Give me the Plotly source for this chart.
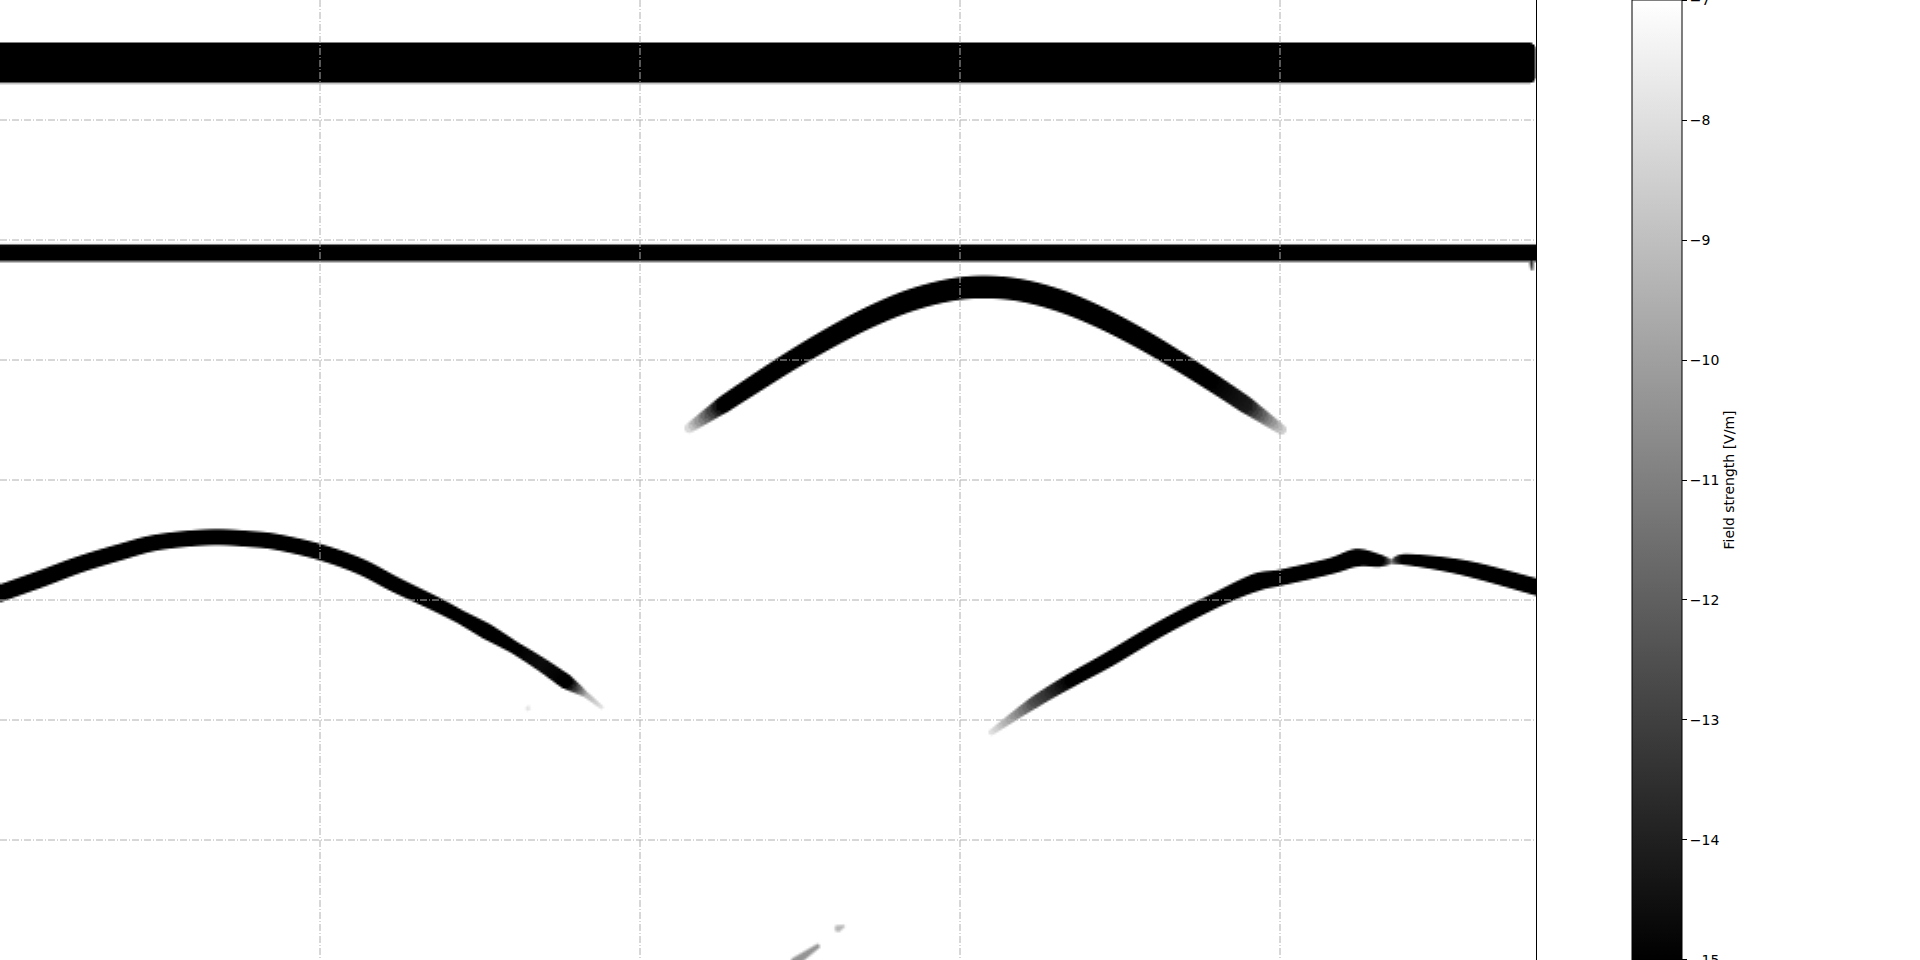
import numpy as np
import plotly.graph_objects as go

# ---------------- data ----------------
# axis units: x 0..4.8, y 0..8 (y grows downward)
colorbar_ticks = [-7, -8, -9, -10, -11, -12, -13, -14, -15]
colorbar_text = ["\u22127", "\u22128", "\u22129", "\u221210", "\u221211",
                 "\u221212", "\u221213", "\u221214", "\u221215"]
z_min, z_max = -15, -7

# direct-wave band (thick, top)
band1_x = [0.0, 4.797]
band1_y = [0.3525, 0.689]          # top / bottom edge

# surface reflection band
band2_x = [-0.05, 4.81]
band2_y = [2.104, 2.104]
band2_hw = [8.5, 8.5]
band2_int = [1.0, 1.0]

# upper hyperbola (middle)
arch1_x = [2.153, 2.259, 2.344, 2.469, 2.594, 2.719, 2.844, 2.969, 3.075,
           3.188, 3.313, 3.438, 3.563, 3.675, 3.781, 3.891, 4.003]
arch1_y = [3.563, 3.368, 3.218, 3.004, 2.808, 2.635, 2.498, 2.412, 2.388,
           2.415, 2.504, 2.643, 2.817, 2.994, 3.173, 3.368, 3.575]
arch1_hw = [5.0, 8.5, 9.0, 9.5, 10.0, 10.5, 11.0, 11.2, 11.4,
            11.2, 11.0, 10.5, 10.0, 9.5, 9.0, 8.5, 5.0]
arch1_int = [0.15, 1.0, 1.0, 1.0, 1.0, 1.0, 1.0, 1.0, 1.0,
             1.0, 1.0, 1.0, 1.0, 1.0, 1.0, 0.9, 0.2]

# left hyperbola
arch2_x = [-0.02, 0.125, 0.247, 0.375, 0.494, 0.656, 0.781, 0.866, 1.0, 1.125,
           1.234, 1.359, 1.438, 1.519, 1.606, 1.688, 1.766, 1.828, 1.878]
arch2_y = [4.958, 4.821, 4.700, 4.596, 4.514, 4.473, 4.488, 4.514, 4.598, 4.717,
           4.868, 5.028, 5.138, 5.257, 5.392, 5.529, 5.673, 5.783, 5.889]
arch2_hw = [8.5, 8.5, 8.3, 8.2, 8.0, 8.0, 8.0, 8.0, 8.0, 8.0,
            7.8, 7.3, 6.8, 8.0, 6.2, 6.8, 7.5, 3.0, 2.0]
arch2_int = [1.0, 1.0, 1.0, 1.0, 1.0, 1.0, 1.0, 1.0, 1.0, 1.0,
             1.0, 1.0, 1.0, 1.0, 1.0, 0.95, 1.0, 0.3, 0.12]

# right rising reflection
arch3_x = [3.097, 3.231, 3.344, 3.463, 3.634, 3.809, 3.925, 4.003, 4.156,
           4.238, 4.306, 4.347, 4.388, 4.503, 4.619, 4.81]
arch3_y = [6.098, 5.848, 5.667, 5.492, 5.223, 4.983, 4.848, 4.808, 4.714,
           4.644, 4.667, 4.675, 4.658, 4.694, 4.756, 4.895]
arch3_hw = [3.0, 6.0, 7.0, 7.5, 7.5, 7.5, 9.0, 8.0, 8.0,
            9.0, 6.5, 2.5, 5.5, 7.0, 8.0, 8.5]
arch3_int = [0.12, 0.7, 1.0, 1.0, 1.0, 1.0, 1.0, 1.0, 1.0,
             1.0, 1.0, 0.45, 1.0, 1.0, 1.0, 1.0]

# small faint spots: (x0, y0, x1, y1, half width px, intensity)
spots_x0 = [1.650, 2.618, 2.484, 4.784]
spots_y0 = [5.900, 7.733, 8.010, 2.150]
spots_x1 = [1.652, 2.632, 2.553, 4.786]
spots_y1 = [5.902, 7.717, 7.883, 2.235]
spots_hw = [2.5, 3.5, 4.5, 2.5]
spots_int = [0.12, 0.28, 0.42, 0.8]

x_range = [0, 4.8]
y_range = [0, 8]
grid_x = [1, 2, 3, 4]
grid_y = [1, 2, 3, 4, 5, 6, 7]

# ---------------- raster field built from the curves ----------------
NX, NY = 768, 480
SX, SY = 1536 / 4.8, 960 / 8.0          # px per axis unit (isotropic widths)
xc = (np.arange(NX) + 0.5) * (x_range[1] - x_range[0]) / NX
yc = (np.arange(NY) + 0.5) * (y_range[1] - y_range[0]) / NY
XU, YU = np.meshgrid(xc, yc)
X, Y = XU * SX, YU * SY
cov = np.zeros_like(X)
SOFT = 1.8


def smooth_path(px, py, hws, ints, sub=10):
    """Catmull-Rom rendering of the control points (for drawing only)."""
    n = len(px)
    if n < 3:
        return px, py, hws, ints
    P = np.stack([px, py], axis=1)
    ext = np.vstack([2 * P[0] - P[1], P, 2 * P[-1] - P[-2]])
    ox, oy, oh, oi = [], [], [], []
    for i in range(n - 1):
        p0, p1, p2, p3 = ext[i], ext[i + 1], ext[i + 2], ext[i + 3]
        for s in range(sub):
            t = s / sub
            t2, t3 = t * t, t * t * t
            pt = 0.5 * ((2 * p1) + (-p0 + p2) * t + (2 * p0 - 5 * p1 + 4 * p2 - p3) * t2
                        + (-p0 + 3 * p1 - 3 * p2 + p3) * t3)
            ox.append(pt[0]); oy.append(pt[1])
            oh.append(hws[i] + t * (hws[i + 1] - hws[i]))
            oi.append(ints[i] + t * (ints[i + 1] - ints[i]))
    ox.append(px[-1]); oy.append(py[-1]); oh.append(hws[-1]); oi.append(ints[-1])
    return np.array(ox), np.array(oy), np.array(oh), np.array(oi)


def stroke(xs, ys, hws, ints, soft=SOFT):
    px = np.asarray(xs, float) * SX
    py = np.asarray(ys, float) * SY
    px, py, hws, ints = smooth_path(px, py, list(hws), list(ints))
    out = np.zeros_like(X)
    for i in range(len(px) - 1):
        ax, ay, bx, by = px[i], py[i], px[i + 1], py[i + 1]
        m = max(hws[i], hws[i + 1]) + 4
        xlo, xhi = min(ax, bx) - m, max(ax, bx) + m
        ylo, yhi = min(ay, by) - m, max(ay, by) + m
        cols = np.where((X[0] >= xlo) & (X[0] <= xhi))[0]
        rows = np.where((Y[:, 0] >= ylo) & (Y[:, 0] <= yhi))[0]
        if len(cols) == 0 or len(rows) == 0:
            continue
        sl = (slice(rows[0], rows[-1] + 1), slice(cols[0], cols[-1] + 1))
        Xs, Ys = X[sl], Y[sl]
        dx, dy = bx - ax, by - ay
        L2 = dx * dx + dy * dy
        if L2 == 0:
            t = np.zeros_like(Xs)
        else:
            t = np.clip(((Xs - ax) * dx + (Ys - ay) * dy) / L2, 0, 1)
        d = np.hypot(Xs - (ax + t * dx), Ys - (ay + t * dy))
        hw = hws[i] + t * (hws[i + 1] - hws[i])
        it = ints[i] + t * (ints[i + 1] - ints[i])
        c = np.clip((hw - d) / soft + 0.5, 0, 1) * it
        out[sl] = np.maximum(out[sl], c)
    return out


# band 1 : rounded rectangle
x0, x1 = band1_x[0] * SX - 20, band1_x[1] * SX
y0, y1 = band1_y[0] * SY, band1_y[1] * SY
cx, cy = (x0 + x1) / 2, (y0 + y1) / 2
bx, by = (x1 - x0) / 2, (y1 - y0) / 2
r = 6.0
qx = np.abs(X - cx) - (bx - r)
qy = np.abs(Y - cy) - (by - r)
sd = np.hypot(np.maximum(qx, 0), np.maximum(qy, 0)) + np.minimum(np.maximum(qx, qy), 0) - r
cov = np.maximum(cov, np.clip(0.5 - sd / 1.2, 0, 1))

cov = np.maximum(cov, stroke(band2_x, band2_y, band2_hw, band2_int, soft=2.2))
cov = np.maximum(cov, stroke(arch1_x, arch1_y, arch1_hw, arch1_int))
cov = np.maximum(cov, stroke(arch2_x, arch2_y, arch2_hw, arch2_int))
cov = np.maximum(cov, stroke(arch3_x, arch3_y, arch3_hw, arch3_int))
for i in range(len(spots_x0)):
    cov = np.maximum(cov, stroke([spots_x0[i], spots_x1[i]], [spots_y0[i], spots_y1[i]],
                                 [spots_hw[i], spots_hw[i] * 0.5], [spots_int[i]] * 2, soft=3.0))

Z = (z_max - (z_max - z_min) * cov).astype(np.float32)

# ---------------- figure ----------------
eps = 0.003
fig = go.Figure()
fig.add_trace(go.Heatmap(
    x=xc, y=yc, z=Z,
    zmin=z_min - eps, zmax=z_max + eps,
    colorscale=[[0, "black"], [1, "white"]],
    zsmooth="best",
    hoverinfo="skip",
    colorbar=dict(
        x=1632 / 1920, xanchor="left", xref="paper",
        y=0.5, yanchor="middle", len=1.0, lenmode="fraction",
        thickness=50, thicknessmode="pixels",
        outlinecolor="black", outlinewidth=1,
        tickmode="array", tickvals=colorbar_ticks, ticktext=colorbar_text,
        ticks="outside", ticklen=5, tickcolor="black", tickwidth=1,
        ticklabeloverflow="allow",
        tickfont=dict(family="DejaVu Sans", size=14, color="black"),
        title=dict(text="Field strength [V/m]", side="right",
                   font=dict(family="DejaVu Sans", size=14, color="black")),
        xpad=0, ypad=0,
    ),
))

grid_style = dict(color="#b0b0b0", width=1, dash="7px,2px,1px,2px")
shapes = []
for gx in grid_x:
    shapes.append(dict(type="line", xref="x", yref="y", x0=gx, x1=gx,
                       y0=y_range[0], y1=y_range[1], line=grid_style, layer="above"))
for gy in grid_y:
    shapes.append(dict(type="line", xref="x", yref="y", x0=x_range[0], x1=x_range[1],
                       y0=gy, y1=gy, line=grid_style, layer="above"))

fig.update_layout(
    width=1920, height=960,
    margin=dict(l=0, r=0, t=0, b=0),
    paper_bgcolor="white", plot_bgcolor="white",
    shapes=shapes,
    xaxis=dict(domain=[0, 0.8], range=x_range, showgrid=False, zeroline=False,
               showticklabels=False, ticks="", showline=True, mirror=True,
               linecolor="black", linewidth=1),
    yaxis=dict(domain=[0, 1], range=[y_range[1], y_range[0]], showgrid=False,
               zeroline=False, showticklabels=False, ticks="", showline=True,
               mirror=True, linecolor="black", linewidth=1),
    font=dict(family="DejaVu Sans", size=14, color="black"),
)

fig.write_html("out.html")
